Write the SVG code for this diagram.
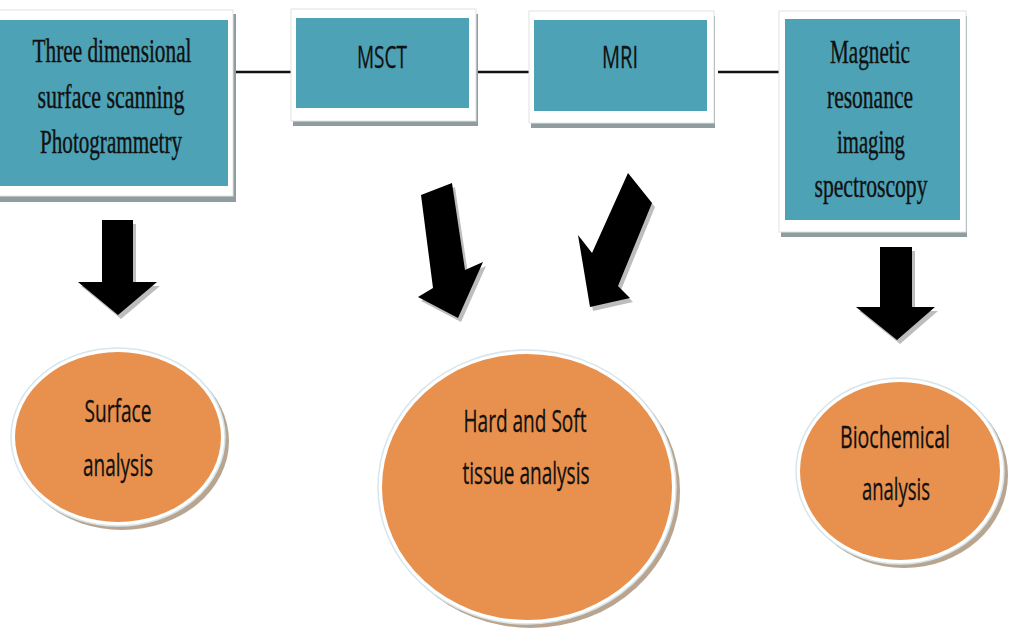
<svg xmlns="http://www.w3.org/2000/svg" width="1010" height="631" viewBox="0 0 1010 631">
<style>
.frame{fill:#ffffff;stroke:#e2e2e2;stroke-width:1}
.shadow{fill:#8f9da1}
.box{fill:#4da2b6}
.oval{fill:#e8904e}
.ring{fill:#ffffff;stroke:#d6e6ec;stroke-width:1.5}
.oshadow{fill:#b9a58f}
.arrow{fill:#000000}
.ashadow{fill:#bdbdbd}
.serif{font-family:"Liberation Serif","Times New Roman",serif;font-size:33px;fill:#111111;stroke:#111111;stroke-width:0.4}
.sans{font-family:"Open Sans","Liberation Sans",Arial,sans-serif;font-size:31px;fill:#111111;stroke:#111111;stroke-width:0.3}
.conn{stroke:#111111;stroke-width:2.5;fill:none}
</style>
<rect width="1010" height="631" fill="#ffffff"/>
<g id="connectors">
<line class="conn" x1="231" y1="72" x2="293" y2="72"/>
<line class="conn" x1="473" y1="72" x2="535" y2="72"/>
<line class="conn" x1="718" y1="72" x2="782" y2="72"/>
</g>
<g id="node-3d">
<rect class="shadow" x="0" y="14" width="236" height="188"/>
<rect class="frame" x="-2" y="10" width="235" height="186"/>
<rect class="box" x="0" y="20" width="228" height="166"/>
<text class="serif" x="112" y="62" text-anchor="middle" textLength="159" lengthAdjust="spacingAndGlyphs">Three dimensional</text>
<text class="serif" x="111" y="108" text-anchor="middle" textLength="147" lengthAdjust="spacingAndGlyphs">surface scanning</text>
<text class="serif" x="111" y="153" text-anchor="middle" textLength="142" lengthAdjust="spacingAndGlyphs">Photogrammetry</text>
</g>
<g id="node-msct">
<rect class="shadow" x="293" y="14" width="185" height="112"/>
<rect class="frame" x="291" y="9" width="185" height="112"/>
<rect class="box" x="296" y="18" width="173" height="90"/>
<text class="sans" x="382" y="68" text-anchor="middle" textLength="50" lengthAdjust="spacingAndGlyphs">MSCT</text>
</g>
<g id="node-mri">
<rect class="shadow" x="531" y="16" width="184" height="112"/>
<rect class="frame" x="529" y="11" width="185" height="112"/>
<rect class="box" x="534" y="20" width="173" height="91"/>
<text class="sans" x="620" y="68" text-anchor="middle" textLength="36" lengthAdjust="spacingAndGlyphs">MRI</text>
</g>
<g id="node-mris">
<rect class="shadow" x="781" y="16" width="186" height="221"/>
<rect class="frame" x="779" y="11" width="187" height="221"/>
<rect class="box" x="785" y="19" width="175" height="201"/>
<text class="serif" x="870" y="63" text-anchor="middle" textLength="80" lengthAdjust="spacingAndGlyphs">Magnetic</text>
<text class="serif" x="870" y="108" text-anchor="middle" textLength="86" lengthAdjust="spacingAndGlyphs">resonance</text>
<text class="serif" x="871" y="153" text-anchor="middle" textLength="68" lengthAdjust="spacingAndGlyphs">imaging</text>
<text class="serif" x="871" y="197" text-anchor="middle" textLength="113" lengthAdjust="spacingAndGlyphs">spectroscopy</text>
</g>
<g id="arrows">
<polygon class="ashadow" points="105,224 136,224 136,286 160,286 121,319 81,286 105,286"/>
<polygon class="arrow" points="102,220 133,220 133,282 157,282 118,315 78,282 102,282"/>
<polygon class="ashadow" points="424,199 455,187 468,274 486,266 461,322 421,301 436,292"/>
<polygon class="arrow" points="421,195 452,183 465,270 483,262 458,318 418,297 433,288"/>
<polygon class="ashadow" points="631,177 655,207 621,290 633,302 593,311 581,239 595,257"/>
<polygon class="arrow" points="628,173 652,203 618,286 630,298 590,307 578,235 592,253"/>
<polygon class="ashadow" points="883,251 915,251 915,311 938,311 900,344 859,311 883,311"/>
<polygon class="arrow" points="880,247 912,247 912,307 935,307 897,340 856,307 880,307"/>
</g>
<g id="node-surface">
<ellipse class="oshadow" cx="122" cy="441" rx="107" ry="89"/>
<ellipse class="ring" cx="118" cy="437" rx="107" ry="89"/>
<ellipse class="oval" cx="118" cy="437" rx="103" ry="85"/>
<text class="sans" x="118" y="422" text-anchor="middle" textLength="67" lengthAdjust="spacingAndGlyphs">Surface</text>
<text class="sans" x="118" y="476" text-anchor="middle" textLength="70" lengthAdjust="spacingAndGlyphs">analysis</text>
</g>
<g id="node-tissue">
<ellipse class="oshadow" cx="531" cy="491" rx="149" ry="137"/>
<ellipse class="ring" cx="527" cy="487" rx="149" ry="137"/>
<ellipse class="oval" cx="527" cy="487" rx="145" ry="133"/>
<text class="sans" x="525" y="432" text-anchor="middle" textLength="123" lengthAdjust="spacingAndGlyphs">Hard and Soft</text>
<text class="sans" x="526" y="484" text-anchor="middle" textLength="127" lengthAdjust="spacingAndGlyphs">tissue analysis</text>
</g>
<g id="node-bio">
<ellipse class="oshadow" cx="904" cy="475" rx="104" ry="93"/>
<ellipse class="ring" cx="900" cy="471" rx="104" ry="93"/>
<ellipse class="oval" cx="900" cy="471" rx="100" ry="89"/>
<text class="sans" x="895" y="448" text-anchor="middle" textLength="110" lengthAdjust="spacingAndGlyphs">Biochemical</text>
<text class="sans" x="896" y="500" text-anchor="middle" textLength="68" lengthAdjust="spacingAndGlyphs">analysis</text>
</g>
</svg>
